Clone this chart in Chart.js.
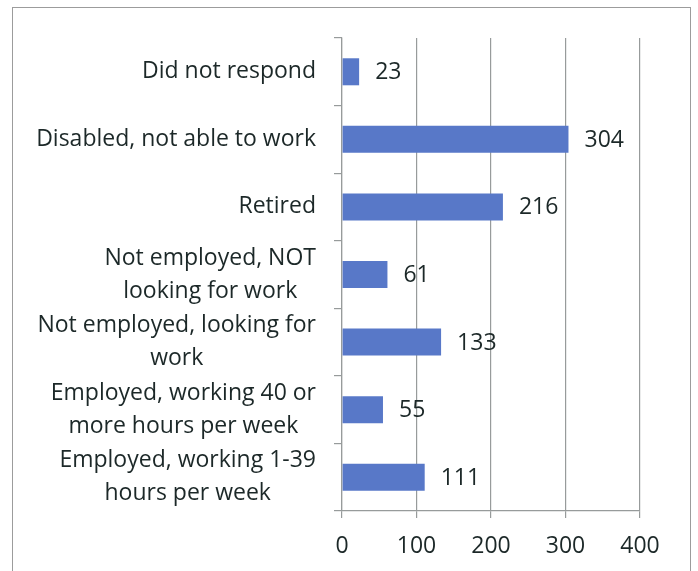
<!DOCTYPE html>
<html>
<head>
<meta charset="utf-8">
<script src="https://cdn.jsdelivr.net/npm/chart.js@4"></script>
<style>
  html, body { margin:0; padding:0; background:#fff; overflow:hidden; }
  #wrap { position:relative; width:698px; height:571px; }
  #frame { position:absolute; left:12px; top:7px; width:679px; height:640px; border:1.5px solid #9c9c9c; box-sizing:border-box; }
  canvas { position:absolute; left:0; top:0; }
</style>
</head>
<body>
<div id="wrap">
  <div id="frame"></div>
  <canvas id="statusChart" width="698" height="571"></canvas>
</div>
<script>
const categories = [
  ['Did not respond'],
  ['Disabled, not able to work'],
  ['Retired'],
  ['Not employed, NOT', 'looking for work'],
  ['Not employed, looking for', 'work'],
  ['Employed, working 40 or', 'more hours per week'],
  ['Employed, working 1-39', 'hours per week']
];
const counts = [23, 304, 216, 61, 133, 55, 111];
const xTicks = [0, 100, 200, 300, 400];

const FONT = '"Open Sans", sans-serif';
const FONT_SIZE = 23;
const TEXT = '#1c2828';
const LINE = '#979b9b';

// category labels: block right-aligned, lines centred within the block
const labelPlugin = {
  id: 'catLabels',
  afterDraw(chart){
    const ctx = chart.ctx, y = chart.scales.y;
    ctx.save();
    ctx.font = FONT_SIZE + 'px ' + FONT;
    ctx.fillStyle = TEXT;
    ctx.textAlign = 'center';
    ctx.textBaseline = 'middle';
    categories.forEach((lines, i) => {
      const w = Math.max(...lines.map(l => ctx.measureText(l).width));
      const cx = y.right - 26 - w / 2;
      const cy = y.getPixelForTick(i);
      lines.forEach((l, j) => ctx.fillText(l, cx, cy + (j - (lines.length - 1) / 2) * 33));
    });
    ctx.restore();
  }
};

// value labels just past the end of each bar
const valuePlugin = {
  id: 'barValues',
  afterDatasetsDraw(chart){
    const ctx = chart.ctx;
    ctx.save();
    ctx.font = FONT_SIZE + 'px ' + FONT;
    ctx.fillStyle = TEXT;
    ctx.textAlign = 'left';
    ctx.textBaseline = 'middle';
    chart.getDatasetMeta(0).data.forEach((bar, i) => {
      ctx.fillText(String(counts[i]), bar.x + 16, bar.y + 1);
    });
    ctx.restore();
  }
};

new Chart(document.getElementById('statusChart').getContext('2d'), {
  type:'bar',
  data:{
    labels: categories,
    datasets:[{ data: counts, backgroundColor:'#5878c8', barPercentage:0.4, categoryPercentage:1 }]
  },
  options:{
    indexAxis:'y',
    responsive:false,
    animation:false,
    layout:{ padding:{ left:0, right:58, top:38, bottom:0 } },
    plugins:{ legend:{ display:false }, tooltip:{ enabled:false } },
    scales:{
      x:{
        min:0, max:400,
        afterBuildTicks(scale){ scale.ticks = xTicks.map(v => ({ value:v })); },
        afterFit(scale){ scale.height = 60; },
        grid:{ color:LINE, lineWidth:1.2, tickLength:7 },
        border:{ color:LINE, width:1.2 },
        ticks:{ font:{ family:FONT, size:FONT_SIZE }, color:TEXT, padding:15 }
      },
      y:{
        afterFit(scale){ scale.width = 342; },
        grid:{ drawOnChartArea:false, color:LINE, lineWidth:1.2, tickLength:8 },
        border:{ color:LINE, width:1.2 },
        ticks:{ font:{ family:FONT, size:FONT_SIZE }, color:'rgba(0,0,0,0)' }
      }
    }
  },
  plugins:[labelPlugin, valuePlugin]
});
</script>
</body>
</html>
